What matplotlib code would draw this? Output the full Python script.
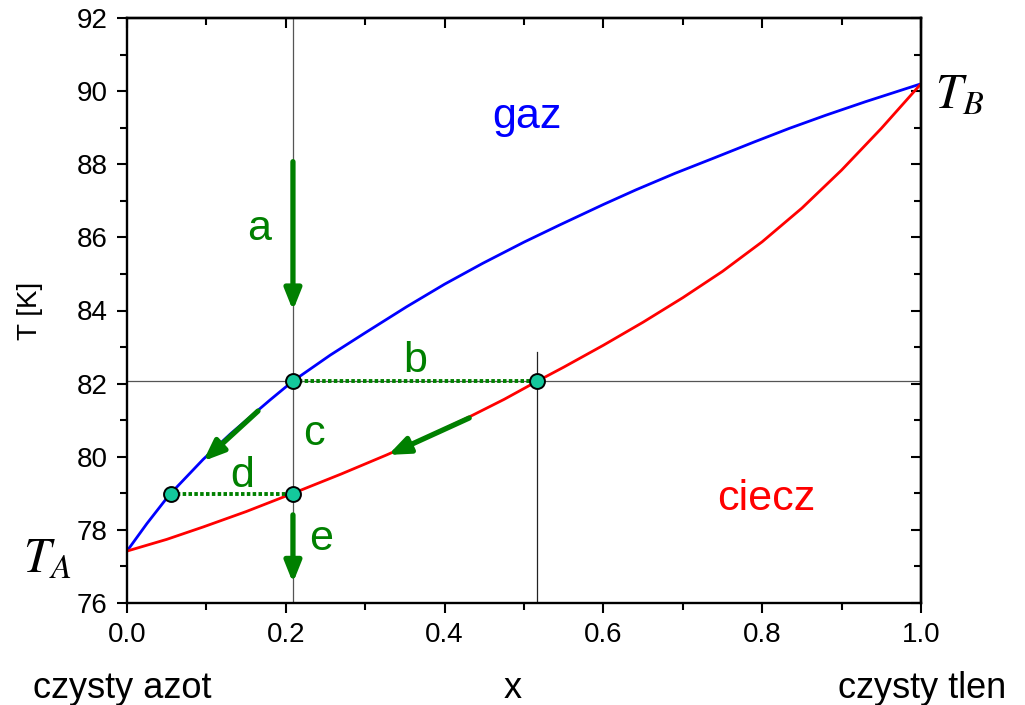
import matplotlib
matplotlib.use("Agg")
import matplotlib.pyplot as plt
import numpy as np

# dane (krzywe rownowagi N2-O2)
x_gaz = [0.0, 0.025, 0.053, 0.096, 0.13, 0.18, 0.209, 0.256, 0.30, 0.352,
         0.40, 0.448, 0.50, 0.545, 0.60, 0.641, 0.69, 0.738, 0.79, 0.834,
         0.88, 0.93, 1.0]
T_gaz = [77.42, 78.17, 78.95, 79.93, 80.62, 81.55, 82.07, 82.78, 83.39, 84.10,
         84.72, 85.29, 85.87, 86.34, 86.90, 87.30, 87.75, 88.16, 88.61, 88.98,
         89.34, 89.71, 90.20]

x_ciecz = [0.0, 0.05, 0.096, 0.15, 0.209, 0.27, 0.327, 0.38, 0.432, 0.475,
           0.517, 0.55, 0.60, 0.65, 0.70, 0.75, 0.80, 0.85, 0.90, 0.95, 1.0]
T_ciecz = [77.42, 77.74, 78.08, 78.50, 79.0, 79.53, 80.05, 80.56, 81.10, 81.57,
           82.07, 82.45, 83.05, 83.68, 84.35, 85.07, 85.88, 86.80, 87.84, 88.98,
           90.2]

x0 = 0.209        # sklad poczatkowy
T_b = 82.07       # poziom b
x_b = 0.517
x_d = 0.055
T_d = 78.98

punkty_x = [x0, x_b, x_d, x0]
punkty_T = [T_b, T_b, T_d, T_d]

litery = ["a", "b", "c", "d", "e"]
litery_x = [0.166, 0.363, 0.2355, 0.1455, 0.244]
litery_T = [85.93, 82.33, 80.32, 79.16, 77.45]

green = "#008000"
fs_tick = 20

plt.rcParams['font.family'] = ['Liberation Sans', 'DejaVu Sans']

fig = plt.figure(figsize=(10.25, 7.05), dpi=100)
ax = fig.add_axes([127/1025, 1-603/705, 794/1025, 585/705])

# linie pomocnicze
ax.axvline(x0, color="#555555", lw=0.9, zorder=1)
ax.axhline(T_b, color="#555555", lw=0.9, zorder=1)
ax.plot([x_b, x_b], [76, 82.87], color="#222222", lw=0.9, zorder=1)

ax.plot(x_gaz, T_gaz, color="blue", lw=2.0, zorder=2)
ax.plot(x_ciecz, T_ciecz, color="red", lw=2.0, zorder=2)

# linie kropkowane b i d
ax.plot([x0, x_b], [T_b, T_b], color=green, lw=2.8, ls=(0, (0.9, 0.6)),
        dash_capstyle="butt", zorder=3)
ax.plot([x_d, x0], [T_d, T_d], color=green, lw=2.8, ls=(0, (0.9, 0.6)),
        dash_capstyle="butt", zorder=3)

ax.scatter(punkty_x, punkty_T, s=115, color="#14c89c", edgecolor="black",
           linewidth=1.4, zorder=5)

# strzalki
strzalki = [((x0, 88.07), (x0, 84.0)),
            ((0.165, 81.25), (0.096, 79.88)),
            ((0.431, 81.06), (0.329, 80.05)),
            ((x0, 78.41), (x0, 76.55))]
for start, end in strzalki:
    ax.annotate("", xy=end, xytext=start,
                arrowprops=dict(arrowstyle="-|>,head_length=1.25,head_width=0.5",
                                color=green, lw=3.8, shrinkA=0, shrinkB=0,
                                mutation_scale=10),
                zorder=4)

for s, lx, lt in zip(litery, litery_x, litery_T):
    ax.text(lx, lt, s, color=green, fontsize=31, ha="center", va="baseline")

ax.text(0.504, 88.98, "gaz", color="blue", fontsize=31, ha="center", va="baseline")
ax.text(0.805, 78.54, "ciecz", color="red", fontsize=31, ha="center", va="baseline")

ax.text(-0.1, 76.85, r"$T_A$", fontsize=35, math_fontfamily="stix",
        ha="center", va="baseline", clip_on=False)
ax.text(1.049, 89.54, r"$T_B$", fontsize=35, math_fontfamily="stix",
        ha="center", va="baseline", clip_on=False)

ax.set_xlim(0, 1)
ax.set_ylim(76, 92)
ax.set_xticks(np.arange(0, 1.01, 0.2))
ax.set_xticks(np.arange(0, 1.01, 0.1), minor=True)
ax.set_yticks(np.arange(76, 92.1, 2))
ax.set_yticks(np.arange(76, 92.1, 1), minor=True)
ax.set_xticklabels(["%.1f" % v for v in np.arange(0, 1.01, 0.2)])

for sp in ax.spines.values():
    sp.set_linewidth(1.7)
ax.tick_params(which="both", direction="out", width=1.5, labelsize=fs_tick)
ax.tick_params(which="major", length=7)
ax.tick_params(which="minor", length=5)
ax.tick_params(axis="x", pad=7)
ax.tick_params(axis="y", pad=7)

top = ax.secondary_xaxis("top")
top.set_xticks(np.arange(0, 1.01, 0.2))
top.set_xticks(np.arange(0, 1.01, 0.1), minor=True)
top.tick_params(which="both", direction="in", width=1.5, labeltop=False)
top.tick_params(which="major", length=7)
top.tick_params(which="minor", length=5)
top.spines["top"].set_linewidth(1.7)

right = ax.secondary_yaxis("right")
right.set_yticks(np.arange(76, 92.1, 2))
right.set_yticks(np.arange(76, 92.1, 1), minor=True)
right.tick_params(which="both", direction="in", width=1.5, labelright=False)
right.tick_params(which="major", length=7)
right.tick_params(which="minor", length=5)
right.spines["right"].set_linewidth(1.7)

ax.set_ylabel("T [K]", fontsize=20)
ax.yaxis.set_label_coords(-0.106, 0.5)

fig.text(122/1025, 1-689/705, "czysty azot", fontsize=26, ha="center", va="center")
fig.text(513/1025, 1-689/705, "x", fontsize=26, ha="center", va="center")
fig.text(922/1025, 1-689/705, "czysty tlen", fontsize=26, ha="center", va="center")

fig.savefig("out.png", dpi=100)
